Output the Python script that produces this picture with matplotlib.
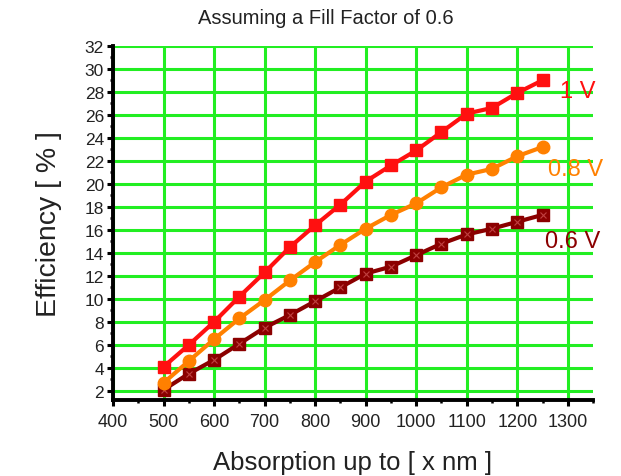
import matplotlib
matplotlib.use('Agg')
import matplotlib.pyplot as plt
from matplotlib.ticker import MultipleLocator

# wavelength limit of absorption (nm)
absorption_nm = [500, 550, 600, 650, 700, 750, 800, 850, 900, 950,
                 1000, 1050, 1100, 1150, 1200, 1250]

# efficiency (%) for each open-circuit voltage
eff_1v = [4.1, 6.0, 8.0, 10.2, 12.3, 14.5, 16.4, 18.2, 20.2, 21.6,
          22.9, 24.5, 26.1, 26.6, 27.9, 29.0]
eff_08v = [2.7, 4.6, 6.5, 8.3, 9.9, 11.6, 13.2, 14.7, 16.1, 17.3,
           18.3, 19.7, 20.8, 21.3, 22.4, 23.2]
eff_06v = [2.1, 3.5, 4.7, 6.1, 7.5, 8.6, 9.8, 11.0, 12.2, 12.8,
           13.8, 14.8, 15.6, 16.1, 16.7, 17.3]

series_labels = ['1 V', '0.8 V', '0.6 V']
x_ticks = [400, 500, 600, 700, 800, 900, 1000, 1100, 1200, 1300]
y_ticks = list(range(2, 33, 2))


def main():
    plt.rcParams['font.family'] = ['Liberation Sans', 'DejaVu Sans']

    fig = plt.figure(figsize=(6.21, 4.77), dpi=100)
    ax = fig.add_axes([0.182, 0.159, 0.773, 0.743])

    ax.plot(absorption_nm, eff_1v, color='#ff1010', lw=3, marker='s',
            ms=9, zorder=5)
    ax.plot(absorption_nm, eff_08v, color='#ff8000', lw=3, marker='o',
            ms=9, zorder=4)
    ax.plot(absorption_nm, eff_06v, color='#8b0000', lw=3, marker='s',
            ms=9, zorder=3)
    ax.plot(absorption_nm, eff_06v, ls='none', color='#c04040', marker='x',
            ms=4, mew=0.8, zorder=3.5)

    ax.set_xlim(400, 1350)
    ax.set_ylim(1.2, 32)
    ax.set_xticks(x_ticks)
    ax.set_yticks(y_ticks)
    ax.xaxis.set_minor_locator(MultipleLocator(50))
    ax.yaxis.set_minor_locator(MultipleLocator(1))

    ax.grid(True, which='major', color='#22ee22', lw=2.2)
    ax.set_axisbelow(True)

    for side in ('top', 'right'):
        ax.spines[side].set_visible(False)
    for side in ('left', 'bottom'):
        ax.spines[side].set_linewidth(2.8)
        ax.spines[side].set_color('black')

    ax.tick_params(which='major', direction='out', length=4.5, width=2.2,
                   labelsize=12.5, labelcolor='#222222')
    ax.tick_params(which='minor', direction='out', length=2.5, width=1.8)
    ax.tick_params(axis='x', which='major', pad=5, labelsize=13)
    ax.tick_params(axis='y', which='major', pad=2)

    fig.text(0.525, 0.962, 'Assuming a Fill Factor of 0.6', fontsize=14.5,
             color='#222222', ha='center', va='center')
    ax.set_xlabel('Absorption up to [ x nm ]', fontsize=18.5,
                  color='#222222', labelpad=14)
    ax.set_ylabel('Efficiency [ % ]', fontsize=20.5,
                  color='#222222', labelpad=16)

    ax.text(1285, 28.1, series_labels[0], color='#ff1010', fontsize=17,
            va='center', clip_on=False)
    ax.text(1261, 21.3, series_labels[1], color='#ff8000', fontsize=17,
            va='center', clip_on=False)
    ax.text(1255, 15.0, series_labels[2], color='#8b0000', fontsize=17,
            va='center', clip_on=False)

    fig.savefig('out.png', dpi=100)


if __name__ == '__main__':
    main()
